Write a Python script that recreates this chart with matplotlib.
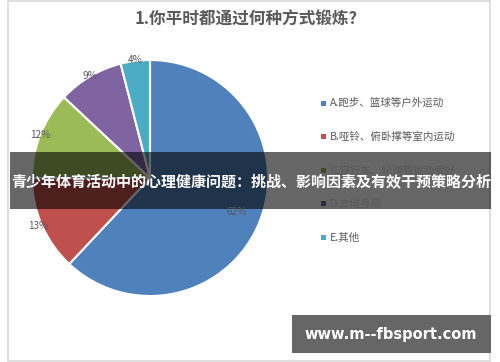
import matplotlib.pyplot as plt
from matplotlib.patches import Rectangle
import numpy as np

plt.rcParams['font.family'] = ['Noto Sans CJK SC', 'DejaVu Sans']

# data
title = '1.你平时都通过何种方式锻炼?'
labels = ['A.跑步、篮球等户外运动', 'B.哑铃、俯卧撑等室内运动', 'C.自行车、轮滑等运动爱好',
          'D.去健身房', 'E.其他']
values = [62, 13, 12, 9, 4]
colors = ['#4F81BD', '#C0504D', '#9BBB59', '#8064A2', '#4BACC6']
banner = '青少年体育活动中的心理健康问题：挑战、影响因素及有效干预策略分析'
watermark = 'www.m--fbsport.com'

W, H = 500, 362
fig = plt.figure(figsize=(5, 3.62), dpi=100)
ax = fig.add_axes([0, 0, 1, 1])
ax.set_xlim(0, W)
ax.set_ylim(0, H)
ax.set_aspect('equal')
ax.axis('off')

def y(v):  # image row -> data y
    return H - v

# chart frame
ax.add_patch(Rectangle((8, y(361)), 482, 360.5, fill=False, ec='#D9D9D9', lw=1.2))

ax.text(246, y(20), title, ha='center', va='center', fontsize=12,
        fontweight='bold', color='#595959')

cx, cy, r = 150, y(178), 118
wedges, _ = ax.pie(values, colors=colors, startangle=90, counterclock=False,
                   center=(cx, cy), radius=r,
                   wedgeprops=dict(edgecolor='white', linewidth=1.5))
ax.set_xlim(0, W)
ax.set_ylim(0, H)

# percent labels
label_dist = [0.79, 1.03, 1.0, 1.0, 1.01]
for w, v, d in zip(wedges, values, label_dist):
    ang = np.deg2rad((w.theta1 + w.theta2) / 2)
    ax.text(cx + d * r * np.cos(ang), cy + d * r * np.sin(ang), f'{v}%',
            ha='center', va='center', fontsize=7.2, color='#595959')

# legend
for i, (lab, c) in enumerate(zip(labels, colors)):
    ly = y(103 + i * 33.6)
    ax.add_patch(Rectangle((321, ly - 2.5), 5, 5, color=c, lw=0))
    ax.text(330, ly, lab, ha='left', va='center', fontsize=7.6, color='#595959')

# overlay band
ax.add_patch(Rectangle((10, y(209)), 481, 57, color='black', alpha=0.6, lw=0))
ax.text(251, y(181), banner, ha='center', va='center', fontsize=10.8,
        fontweight='bold', color='white')

# watermark box
ax.add_patch(Rectangle((292, y(353)), 199, 38, color='#666666', lw=0))
ax.text(391, y(334), watermark, ha='center', va='center', fontsize=10.5,
        fontweight='bold', color='white', family='DejaVu Sans')

plt.savefig('out.png', dpi=100)
